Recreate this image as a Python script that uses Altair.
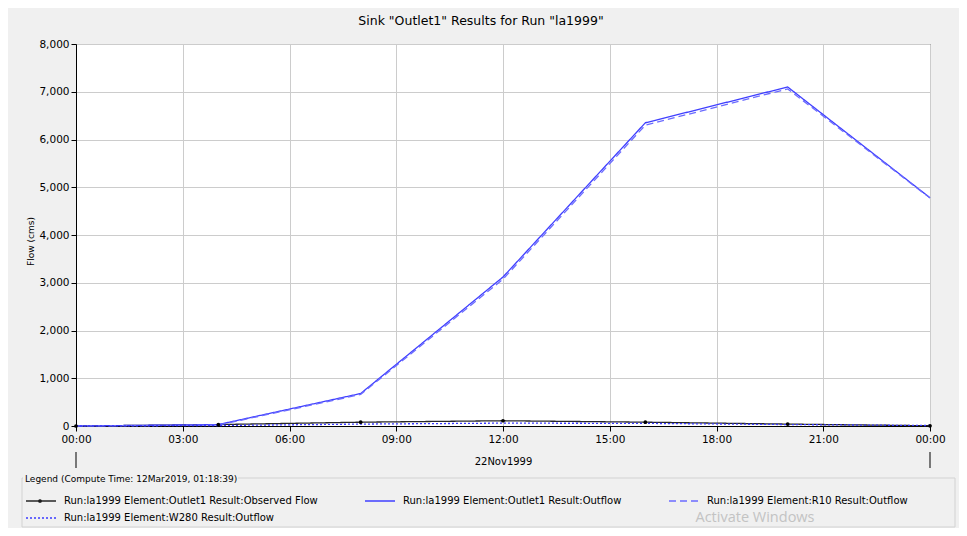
import altair as alt
import pandas as pd

# ---- data ----
hours = [0, 4, 8, 12, 16, 20, 24]
observed = [0, 30, 80, 110, 80, 40, 5]
outlet1 = [0, 30, 680, 3120, 6350, 7100, 4780]
r10 = [0, 20, 660, 3075, 6300, 7060, 4775]
w280 = [0, 10, 40, 60, 55, 30, 10]

series_names = [
    "Run:la1999 Element:Outlet1 Result:Observed Flow",
    "Run:la1999 Element:Outlet1 Result:Outflow",
    "Run:la1999 Element:R10 Result:Outflow",
    "Run:la1999 Element:W280 Result:Outflow",
]
series_values = [observed, outlet1, r10, w280]
series_colors = ["#262626", "#3f3fff", "#6b6bff", "#3a3aff"]
series_dash = [[1, 0], [1, 0], [7, 4], [2, 2]]

x_ticks = [0, 3, 6, 9, 12, 15, 18, 21, 24]
y_ticks = [0, 1000, 2000, 3000, 4000, 5000, 6000, 7000, 8000]
title_text = 'Sink "Outlet1" Results for Run "la1999"'
date_label = "22Nov1999"
y_title = "Flow (cms)"
legend_title = "Legend (Compute Time: 12Mar2019, 01:18:39)"
watermark = "Activate Windows"
boundary_hours = [0, 24]

rows = []
for name, vals in zip(series_names, series_values):
    for h, v in zip(hours, vals):
        rows.append({"hour": h, "flow": v, "series": name})
df = pd.DataFrame(rows)
one = pd.DataFrame({"k": [0]})

FONT = "DejaVu Sans"
W, H = 854, 382

x_enc = alt.X(
    "hour:Q",
    scale=alt.Scale(domain=[0, 24], nice=False),
    axis=alt.Axis(
        values=x_ticks,
        labelExpr="datum.value == 24 ? '00:00' : (datum.value < 10 ? '0' : '') + datum.value + ':00'",
        title=date_label,
        titleX=W / 2,
        titleY=35,
        titleBaseline="middle",
        titleFontSize=10,
        titleFontWeight="normal",
        titleFont=FONT,
        titleColor="#000",
        labelFont=FONT,
        labelFontSize=10.5,
        labelColor="#000",
        labelPadding=3,
        labelFlush=False,
        labelOverlap=False,
        tickSize=5,
        tickColor="#000",
        domainColor="#000",
        grid=True,
        gridColor="#cccccc",
    ),
)
y_enc = alt.Y(
    "flow:Q",
    scale=alt.Scale(domain=[0, 8000], nice=False),
    axis=alt.Axis(
        values=y_ticks,
        format=",d",
        title=y_title,
        titleX=-46,
        titleY=H / 2 + 6,
        titleAngle=270,
        titleAlign="center",
        titleBaseline="middle",
        titleFontSize=9,
        titleFontWeight="normal",
        titleFont=FONT,
        titleColor="#000",
        labelFont=FONT,
        labelFontSize=10.5,
        labelColor="#000",
        labelPadding=2,
        tickSize=5,
        tickColor="#000",
        domainColor="#000",
        grid=True,
        gridColor="#cccccc",
    ),
)

legend = alt.Legend(
    title=legend_title,
    orient="none",
    legendX=-51,
    legendY=431,
    direction="horizontal",
    columns=3,
    columnPadding=44,
    rowPadding=6,
    symbolSize=100,
    symbolType="M-1,0H5",
    symbolStrokeWidth=1.4,
    labelOffset=27,
    labelFont=FONT,
    labelFontSize=10,
    labelColor="#000",
    labelLimit=500,
    titleFont=FONT,
    titleFontSize=9,
    titleFontWeight="normal",
    titleColor="#000",
    titleLimit=500,
    titlePadding=11,
    padding=0,
)

lines = alt.Chart(df).mark_line(strokeWidth=1.3).encode(
    x=x_enc,
    y=y_enc,
    color=alt.Color("series:N", scale=alt.Scale(domain=series_names, range=series_colors), legend=legend),
    strokeDash=alt.StrokeDash("series:N", scale=alt.Scale(domain=series_names, range=series_dash), legend=legend),
)

points = alt.Chart(df).transform_filter(
    alt.datum.series == series_names[0]
).mark_point(filled=True, size=14, color="#000", opacity=1).encode(x="hour:Q", y="flow:Q")

bound = alt.Chart(pd.DataFrame({"hour": boundary_hours})).mark_rule(color="#000", strokeWidth=1).encode(
    x="hour:Q", y=alt.value(408), y2=alt.value(424)
)

legend_box = alt.Chart(one).mark_rect(fill=None, stroke="#d2d2d2", strokeWidth=1).encode(
    x=alt.value(-54), x2=alt.value(879), y=alt.value(434), y2=alt.value(483)
)
legend_cover = alt.Chart(one).mark_rect(fill="#f0f0f0", stroke=None).encode(
    x=alt.value(-53), x2=alt.value(162), y=alt.value(428), y2=alt.value(440)
)
legend_dot = alt.Chart(one).mark_point(filled=True, size=14, color="#000", opacity=1).encode(
    x=alt.value(-36), y=alt.value(457)
)

title = alt.Chart(one).mark_text(
    text=title_text, font=FONT, fontSize=12.5, color="#000", align="center", baseline="middle"
).encode(x=alt.value(405), y=alt.value(-23))

wm = alt.Chart(one).mark_text(
    text=watermark, font="Open Sans", fontSize=14.5, color="#c3c3c3", align="center", baseline="top"
).encode(x=alt.value(679), y=alt.value(467))

chart = alt.layer(legend_box, legend_cover, lines, points, bound, title, wm, legend_dot).properties(
    width=W,
    height=H,
    autosize="none",
    padding={"left": 68, "top": 36, "right": 29, "bottom": 102},
    background="#f0f0f0",
).configure_view(fill="#ffffff", stroke="#333333", strokeWidth=1)

chart.save("out.html", embed_options={"renderer": "svg", "actions": False})
